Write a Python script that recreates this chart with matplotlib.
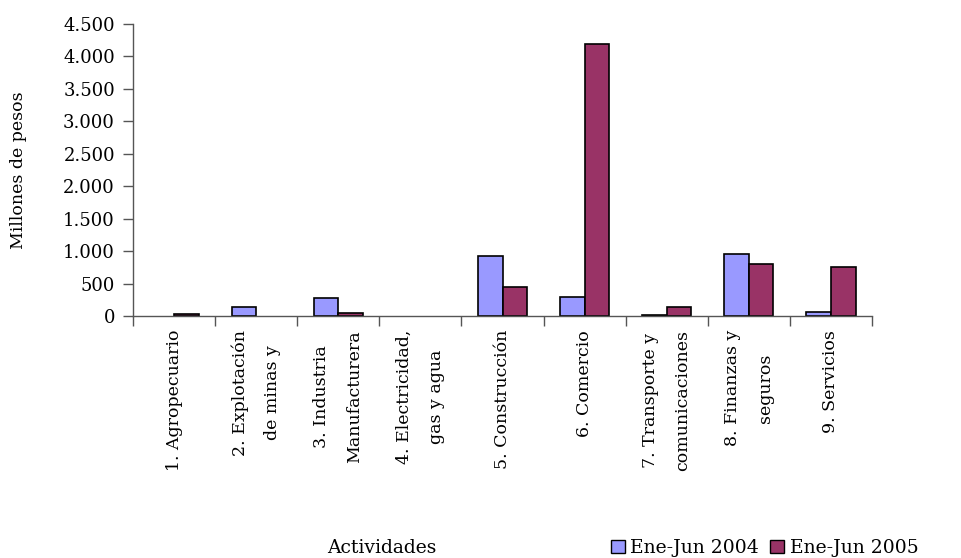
import matplotlib.pyplot as plt
from matplotlib.patches import Patch
from matplotlib.ticker import FuncFormatter
import numpy as np

# Data (millones de pesos)
categories = [
    "1. Agropecuario",
    "2. Explotación\nde minas y",
    "3. Industria\nManufacturera",
    "4. Electricidad,\ngas y agua",
    "5. Construcción",
    "6. Comercio",
    "7. Transporte y\ncomunicaciones",
    "8. Finanzas y\nseguros",
    "9. Servicios",
]
ene_jun_2004 = [0, 135, 273, 0, 926, 298, 20, 952, 57]
ene_jun_2005 = [30, 0, 51, 0, 443, 4190, 135, 807, 751]
series_labels = ["Ene-Jun 2004", "Ene-Jun 2005"]

COLOR_2004 = "#9999FF"
COLOR_2005 = "#993366"
FONT = "DejaVu Serif"

plt.rcParams["font.family"] = FONT

fig = plt.figure(figsize=(9.62, 5.58), dpi=100)
ax = fig.add_axes([0.1383, 0.4337, 0.9064 - 0.1383, 0.957 - 0.4337])

x = np.arange(len(categories)) + 0.5
width = 0.30
# zero values leave no visible bar, as in the original
ax.bar(x - width / 2, ene_jun_2004, width, color=COLOR_2004,
       edgecolor="black", linewidth=[1.2 if v > 0 else 0 for v in ene_jun_2004])
ax.bar(x + width / 2, ene_jun_2005, width, color=COLOR_2005,
       edgecolor="black", linewidth=[1.2 if v > 0 else 0 for v in ene_jun_2005])

ax.set_xlim(0, len(categories))
ax.set_ylim(0, 4500)
ax.set_yticks(np.arange(0, 4501, 500))
ax.yaxis.set_major_formatter(
    FuncFormatter(lambda v, p: f"{int(v):,}".replace(",", ".")))

# category labels centred, tick marks at category boundaries
ax.set_xticks(x)
ax.set_xticklabels(categories, rotation=90, va="top", ha="center",
                   multialignment="center", fontsize=12.5, linespacing=2.2)
ax.set_xticks(np.arange(len(categories) + 1), minor=True)
ax.tick_params(axis="x", which="major", length=0, pad=10)
ax.tick_params(axis="x", which="minor", length=7, width=1, color="#555555",
               direction="out")
ax.tick_params(axis="y", length=7, width=1, color="#555555", labelsize=13,
               pad=6)

for side in ["top", "right"]:
    ax.spines[side].set_visible(False)
for side in ["left", "bottom"]:
    ax.spines[side].set_color("#555555")
    ax.spines[side].set_linewidth(1)

ax.set_ylabel("Millones de pesos", fontsize=12.5)
ax.yaxis.set_label_coords(-0.143, 0.5)

fig.text(0.397, 0.018, "Actividades", ha="center", va="center", fontsize=13.5)

handles = [Patch(facecolor=COLOR_2004, edgecolor="black", linewidth=1),
           Patch(facecolor=COLOR_2005, edgecolor="black", linewidth=1)]
fig.legend(handles, series_labels, loc="center",
           bbox_to_anchor=(0.795, 0.018), ncol=2, frameon=False,
           fontsize=13.5, handlelength=0.75, handleheight=0.75,
           handletextpad=0.3, columnspacing=0.6, borderpad=0)

fig.savefig("out.png", dpi=100)
